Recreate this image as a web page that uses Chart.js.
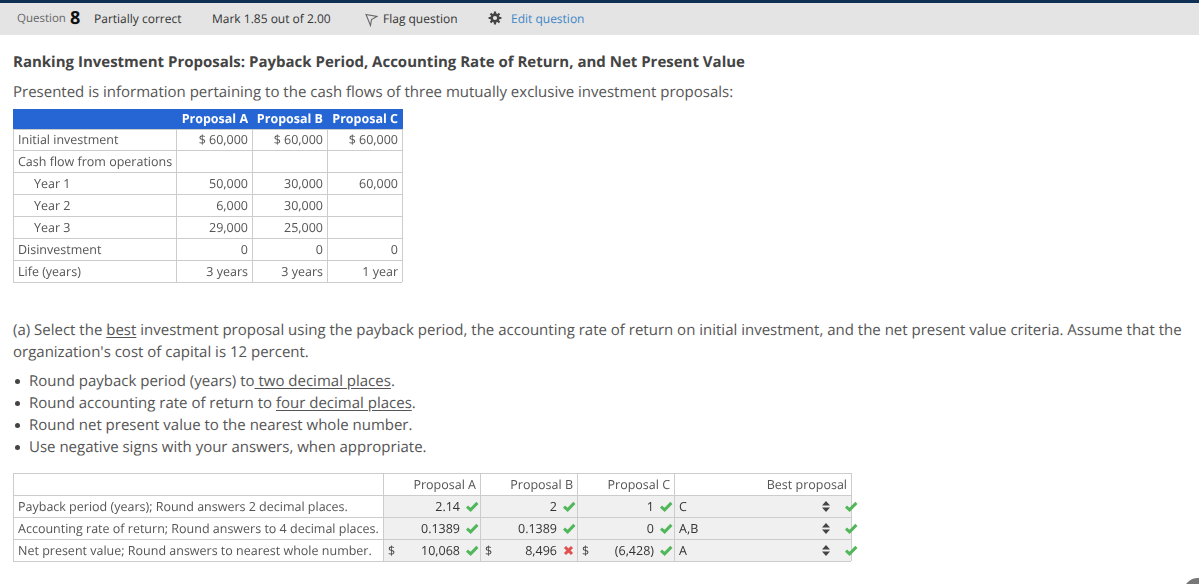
<!DOCTYPE html>
<html><head><meta charset="utf-8"><title>Ranking Investment Proposals</title>
<script src="https://cdn.jsdelivr.net/npm/chart.js@4"></script>
<style>
html,body{margin:0;padding:0;background:#fff;width:1199px;height:584px;overflow:hidden;font-family:"Open Sans",sans-serif;color:#555;text-rendering:geometricPrecision}
.t{position:absolute;white-space:nowrap;line-height:20px;transform:translateY(calc(-50% + 1px))}
.p{font-size:15px;color:#555}
.h{font-size:12px;color:#333}
.d{position:absolute;left:15px;width:5px;height:5px;border-radius:50%;background:#444}
u{text-underline-offset:2px}
canvas{position:absolute;left:0}
</style></head><body>
<div style="position:absolute;left:0;top:0;width:1199px;height:35px;background:#e4e4e4"></div>
<div style="position:absolute;left:0;top:0;width:1199px;height:3px;background:#0f2f55"></div>
<div class="t h" style="left:17px;top:18px;color:#666;font-size:11.5px">Question</div>
<div class="t" style="left:70px;top:17px;font-size:18px;font-weight:700;color:#111">8</div>
<div class="t h" style="left:94px;top:18px">Partially correct</div>
<div class="t h" style="left:212px;top:18px">Mark 1.85 out of 2.00</div>
<svg style="position:absolute;left:365px;top:13px" width="13" height="14" viewBox="0 0 13 14"><path d="M1 1.5 L12 3.5 L6.5 6.5 L5.5 12.5 Z" fill="none" stroke="#666" stroke-width="1.1"/></svg>
<div class="t h" style="left:383px;top:18px">Flag question</div>
<svg style="position:absolute;left:488px;top:11px" width="14" height="14" viewBox="0 0 14 14"><circle cx="7" cy="7" r="3.4" fill="none" stroke="#444" stroke-width="2.6"/><path d="M7 .6V3M7 11v2.4M.6 7H3M11 7h2.4M2.5 2.5 4.2 4.2M9.8 9.8l1.7 1.7M2.5 11.5l1.7-1.7M9.8 4.2l1.7-1.7" stroke="#444" stroke-width="2.2"/></svg>
<div class="t h" style="left:511px;top:18px;color:#3b86c6">Edit question</div>
<div class="t" style="left:13px;top:61px;font-size:15px;font-weight:700;color:#444">Ranking Investment Proposals: Payback Period, Accounting Rate of Return, and Net Present Value</div>
<div class="t p" style="left:13px;top:91px">Presented is information pertaining to the cash flows of three mutually exclusive investment proposals:</div>
<div class="t p" style="left:13px;top:329px">(a) Select the <u>best</u> investment proposal using the payback period, the accounting rate of return on initial investment, and the net present value criteria. Assume that the</div>
<div class="t p" style="left:13px;top:351px">organization's cost of capital is 12 percent.</div>
<div class="d" style="top:379px"></div><div class="t p" style="left:29px;top:380px;">Round payback period (years) to<u> two decimal places</u>.</div>
<div class="d" style="top:401px"></div><div class="t p" style="left:29px;top:402px;">Round accounting rate of return to <u>four decimal places</u>.</div>
<div class="d" style="top:423px"></div><div class="t p" style="left:29px;top:424px;">Round net present value to the nearest whole number.</div>
<div class="d" style="top:445px"></div><div class="t p" style="left:29px;top:446px;">Use negative signs with your answers, when appropriate.</div>
<div style="position:absolute;left:1183px;top:578px;width:30px;height:30px;border-radius:50%;background:#777"></div>
<canvas id="flows" style="top:105px" width="420" height="185"></canvas>
<canvas id="answers" style="top:470px" width="870" height="100"></canvas>
<script>
// ---- data ----
const proposalHeaders = ["Proposal A", "Proposal B", "Proposal C"];
const flowRows = ["Initial investment", "Cash flow from operations", "Year 1", "Year 2", "Year 3", "Disinvestment", "Life (years)"];
const flowA = ["$ 60,000", "", "50,000", "6,000", "29,000", "0", "3 years"];
const flowB = ["$ 60,000", "", "30,000", "30,000", "25,000", "0", "3 years"];
const flowC = ["$ 60,000", "", "60,000", "", "", "0", "1 year"];
const answerRows = ["Payback period (years); Round answers 2 decimal places.", "Accounting rate of return; Round answers to 4 decimal places.", "Net present value; Round answers to nearest whole number."];
const answerA = ["2.14", "0.1389", "10,068"];
const answerB = ["2", "0.1389", "8,496"];
const answerC = ["1", "0", "(6,428)"];
const bestProposal = ["C", "A,B", "A"];
const correctB = [true, true, false];
const bestHeader = "Best proposal";

// ---- layout of table cells (page pixels) ----
const FONT = '"Open Sans", sans-serif';
const flowX = [13, 176, 252, 327, 402], flowY = [109, 129, 150, 172, 194, 216, 238, 260, 282];
const ansX = [13, 383, 480, 577, 674, 851], ansY = [473, 495, 517, 539, 561];
const GREEN = "#52b75a", RED = "#e0504f";

function tick(ctx, x, y, c) {
  ctx.save(); ctx.strokeStyle = c; ctx.lineWidth = 3; ctx.beginPath();
  ctx.moveTo(x, y + .2); ctx.lineTo(x + 3.6, y + 3.4); ctx.lineTo(x + 10.4, y - 3.6); ctx.stroke(); ctx.restore();
}
function cross(ctx, x, y, c) {
  ctx.save(); ctx.strokeStyle = c; ctx.lineWidth = 3; ctx.beginPath();
  ctx.moveTo(x + 1, y - 3.5); ctx.lineTo(x + 8, y + 3.5); ctx.moveTo(x + 8, y - 3.5); ctx.lineTo(x + 1, y + 3.5); ctx.stroke(); ctx.restore();
}
function spinner(ctx, x, y) {
  ctx.save(); ctx.fillStyle = "#444"; ctx.beginPath();
  ctx.moveTo(x - 4, y - 1); ctx.lineTo(x, y - 5.5); ctx.lineTo(x + 4, y - 1); ctx.closePath();
  ctx.moveTo(x - 4, y + 1); ctx.lineTo(x, y + 5.5); ctx.lineTo(x + 4, y + 1); ctx.closePath(); ctx.fill(); ctx.restore();
}

function tableChart(id, top, edgesX, edgesY, paint) {
  const canvas = document.getElementById(id);
  const axis = (edges, extra) => Object.assign({
    type: "linear", min: edges[0], max: edges[edges.length - 1],
    afterBuildTicks: s => { s.ticks = edges.map(v => ({ value: v })); },
    ticks: { display: false, autoSkip: false },
    grid: { color: "#cccccc", lineWidth: 1, drawTicks: false },
    border: { display: false }
  }, extra);
  return new Chart(canvas, {
    type: "scatter",
    data: { datasets: [{ data: [], pointRadius: 0 }] },
    options: {
      responsive: false, animation: false, devicePixelRatio: 1,
      layout: { padding: { left: edgesX[0], top: edgesY[0] - top, right: canvas.width - edgesX[edgesX.length - 1], bottom: top + canvas.height - edgesY[edgesY.length - 1] } },
      plugins: { legend: { display: false }, tooltip: { enabled: false } },
      scales: { x: axis(edgesX), y: axis(edgesY, { reverse: true }) }
    },
    plugins: [{ id: "cells", beforeDraw: c => paint(c, "under"), beforeDatasetsDraw: c => paint(c, "over"), afterDraw: c => paint(c, "text") }]
  });
}
function put(c, text, x, rowMid, align, color, weight) {
  const ctx = c.ctx;
  ctx.save();
  ctx.textRendering = "geometricPrecision";
  ctx.font = (weight || "400") + " 12.5px " + FONT;
  ctx.fillStyle = color; ctx.textAlign = align; ctx.textBaseline = "middle";
  ctx.fillText(text, c.scales.x.getPixelForValue(x), c.scales.y.getPixelForValue(rowMid));
  ctx.restore();
}
const mid = (e, i) => e[i + 1] - 9.5;

tableChart("flows", 105, flowX, flowY, (c, phase) => {
  const { x, y } = c.scales, ctx = c.ctx;
  if (phase === "over") {
    ctx.fillStyle = "#2566d4";
    ctx.fillRect(x.getPixelForValue(flowX[0]), y.getPixelForValue(flowY[0]), x.getPixelForValue(flowX[4]) - x.getPixelForValue(flowX[0]) + 1, y.getPixelForValue(flowY[1]) - y.getPixelForValue(flowY[0]));
  }
  if (phase !== "text") return;
  proposalHeaders.forEach((h, j) => put(c, h, flowX[j + 2] - 4, mid(flowY, 0), "right", "#fff", "700"));
  flowRows.forEach((r, i) => {
    const m = mid(flowY, i + 1) - (i === 0 ? 0.5 : 0);
    put(c, r, r.startsWith("Year") ? 34 : 18, m, "left", "#555");
    [flowA, flowB, flowC].forEach((col, j) => put(c, col[i], flowX[j + 2] - 4, m, "right", "#555"));
  });
});

tableChart("answers", 470, ansX, ansY, (c, phase) => {
  const { x, y } = c.scales, ctx = c.ctx;
  if (phase === "under") {
    ctx.fillStyle = "#f0f0f0";
    ctx.fillRect(x.getPixelForValue(ansX[1]), y.getPixelForValue(ansY[1]), x.getPixelForValue(ansX[5]) - x.getPixelForValue(ansX[1]), y.getPixelForValue(ansY[4]) - y.getPixelForValue(ansY[1]));
  }
  if (phase !== "text") return;
  proposalHeaders.forEach((h, j) => put(c, h, ansX[j + 2] - 4, mid(ansY, 0), "right", "#555"));
  put(c, bestHeader, ansX[5] - 4, mid(ansY, 0), "right", "#555");
  answerRows.forEach((r, i) => {
    const m = mid(ansY, i + 1), py = y.getPixelForValue(m - 1);
    put(c, r, 18, m, "left", "#555");
    [answerA, answerB, answerC].forEach((col, j) => {
      const right = ansX[j + 1] + 77;
      put(c, col[i], right, m, "right", "#333");
      if (i === 2) put(c, "$", ansX[j + 1] + 5, m, "left", "#444");
      const ok = j !== 1 || correctB[i];
      if (ok) tick(ctx, x.getPixelForValue(right + 7), py, GREEN);
      else cross(ctx, x.getPixelForValue(right + 7), py, RED);
    });
    put(c, bestProposal[i], ansX[4] + 5, m, "left", "#333");
    spinner(ctx, x.getPixelForValue(826), py);
    tick(ctx, x.getPixelForValue(846), py, GREEN);
  });
});
</script></body></html>
